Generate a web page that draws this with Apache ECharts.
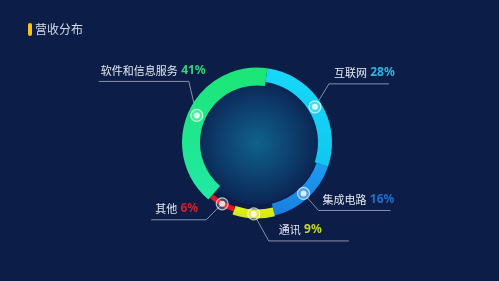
<!DOCTYPE html>
<html>
<head>
<meta charset="utf-8">
<script src="https://cdn.jsdelivr.net/npm/echarts@6/dist/echarts.min.js"></script>
<style>
  html, body { margin: 0; padding: 0; background: #0c1e47; }
  #main { width: 499px; height: 281px; }
</style>
</head>
<body>
<div id="main"></div>
<script>
// 数据
var categories = ['互联网', '集成电路', '通讯', '其他', '软件和信息服务'];
var shares = [28, 16, 9, 6, 41];
var chartTitle = '营收分布';

// 外观
var center = [257, 142.5];
var startAngle = 82;
var ringColors = [
  ['#17d9f8', '#12c6ef'],
  ['#1b9cf2', '#1a7fe0'],
  ['#e3ef1c', '#d2e818'],
  ['#e5131f', '#e5131f'],
  ['#1ce575', '#22e9a6']
];
var valueColors = ['#2cb6e2', '#1f70c8', '#c3d72a', '#d0202c', '#34d27f'];
var ringRadius = [[61, 75], [63, 75], [67, 76], [68, 73], [57, 75]];
// 引导线：拐点偏移、水平段长度、文字偏移
var guide = [
  { ex: 14, ey: -23, len: 60, tx: 5 },
  { ex: 15, ey: 17, len: 72, tx: 4 },
  { ex: 15, ey: 27, len: 80, tx: 10 },
  { ex: -16, ey: 16, len: 55, tx: 4 },
  { ex: -8, ey: -34, len: 90, tx: 2 }
];

var myChart = echarts.init(document.getElementById('main'));

function midRadius(i) {
  return (ringRadius[i][0] + ringRadius[i][1]) / 2;
}

function makeLayout(i) {
  return function (p) {
    var pts = p.labelLinePoints;
    if (!pts) return {};
    var dx = pts[0][0] - center[0], dy = pts[0][1] - center[1];
    var d = Math.sqrt(dx * dx + dy * dy);
    var rm = midRadius(i);
    var dot = [center[0] + dx / d * rm, center[1] + dy / d * rm];
    var g = guide[i];
    var elbow = [dot[0] + g.ex, dot[1] + g.ey];
    var dir = g.ex < 0 ? -1 : 1;
    var end = [elbow[0] + dir * g.len, elbow[1]];
    return {
      x: dir > 0 ? elbow[0] + g.tx : end[0] + g.tx,
      y: elbow[1] - 4,
      align: 'left',
      verticalAlign: 'bottom',
      labelLinePoints: [dot, elbow, end]
    };
  };
}

var series = [];

// 中心光晕
series.push({
  type: 'pie',
  center: center,
  radius: [0, 62],
  silent: true,
  z: 1,
  label: { show: false },
  labelLine: { show: false },
  data: [{
    value: 1,
    itemStyle: {
      color: {
        type: 'radial', x: 0.5, y: 0.5, r: 0.5,
        colorStops: [
          { offset: 0, color: '#10628e' },
          { offset: 0.6, color: '#0d3e6d' },
          { offset: 1, color: '#0b2553' }
        ]
      }
    }
  }]
});

// 每段一个环
categories.forEach(function (name, i) {
  series.push({
    type: 'pie',
    center: center,
    radius: ringRadius[i],
    startAngle: startAngle,
    clockwise: true,
    silent: true,
    avoidLabelOverlap: false,
    z: 2,
    labelLayout: makeLayout(i),
    label: {
      position: 'outside',
      formatter: function (p) {
        return '{n|' + p.name + '} {v|' + p.value + '%}';
      },
      rich: {
        n: { color: '#e4e8f0', fontSize: 11, fontFamily: 'Noto Sans CJK SC', lineHeight: 14 },
        v: { color: valueColors[i], fontSize: 12, fontWeight: 'bold', fontFamily: 'Noto Sans', lineHeight: 14 }
      }
    },
    labelLine: {
      length: 10,
      length2: 10,
      lineStyle: { color: '#8690a6', width: 1 }
    },
    data: categories.map(function (n, j) {
      var on = j === i;
      return {
        name: n,
        value: shares[j],
        itemStyle: {
          color: on ? new echarts.graphic.LinearGradient(0, 0, 0, 1, [
            { offset: 0, color: ringColors[i][0] },
            { offset: 1, color: ringColors[i][1] }
          ]) : 'rgba(0,0,0,0)'
        },
        label: { show: on },
        labelLine: { show: on }
      };
    })
  });
});

// 标记点
var dotData = [];
var acc = 0;
shares.forEach(function (v, i) {
  dotData.push([midRadius(i), acc + v / 2]);
  acc += v;
});

series.push({
  type: 'scatter',
  coordinateSystem: 'polar',
  silent: true,
  z: 5,
  symbolSize: 12,
  itemStyle: { color: 'rgba(255,255,255,0.25)', borderColor: 'rgba(255,255,255,0.85)', borderWidth: 1.2 },
  data: dotData
});
series.push({
  type: 'scatter',
  coordinateSystem: 'polar',
  silent: true,
  z: 6,
  symbolSize: 6,
  itemStyle: { color: '#ffffff' },
  data: dotData
});

var option = {
  backgroundColor: '#0c1e47',
  animation: false,
  title: {
    text: chartTitle,
    left: 35,
    top: 23,
    padding: 0,
    textStyle: { color: '#d5dae6', fontSize: 12, fontWeight: 'normal', fontFamily: 'Noto Sans CJK SC' }
  },
  graphic: [{
    type: 'rect',
    left: 28,
    top: 23,
    shape: { width: 4, height: 13, r: 2 },
    style: { fill: '#f4c21b' }
  }],
  polar: { center: center, radius: 75 },
  angleAxis: {
    type: 'value', min: 0, max: 100, startAngle: startAngle, clockwise: true,
    show: false
  },
  radiusAxis: { type: 'value', min: 0, max: 75, show: false },
  series: series
};

myChart.setOption(option);
</script>
</body>
</html>
